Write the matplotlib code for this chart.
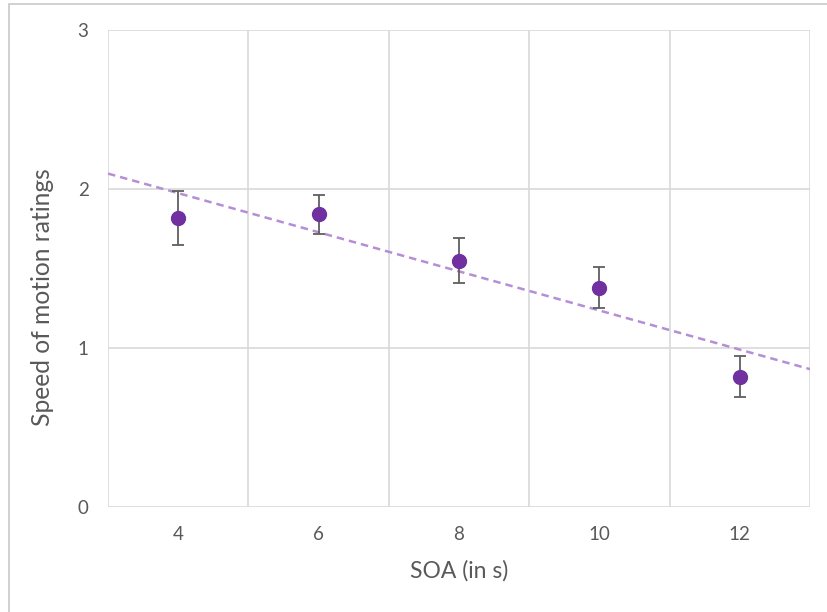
import numpy as np
import matplotlib
matplotlib.use("Agg")
from matplotlib import pyplot as plt
from matplotlib.patches import Rectangle

soa = [4, 6, 8, 10, 12]
ratings = [1.82, 1.84, 1.55, 1.38, 0.82]
errors = [0.17, 0.12, 0.14, 0.13, 0.13]
y_ticks = [0, 1, 2, 3]
x_grid = [3, 5, 7, 9, 11, 13]

plt.rcParams['font.family'] = ['Lato', 'DejaVu Sans']

fig = plt.figure(figsize=(8.28, 6.12), dpi=100)
fig.patches.append(Rectangle((9 / 828, -0.1), 1.2, 1 - 4 / 612 + 0.1,
                             transform=fig.transFigure, fill=False,
                             edgecolor='#c8c8c8', lw=1.2))
ax = fig.add_axes([108 / 828, 1 - 507 / 612, 702 / 828, 477 / 612])

# gridlines
for g in x_grid:
    ax.axvline(g, color='#d9d9d9', lw=1.2, zorder=0)
for t in y_ticks:
    ax.axhline(t, color='#d9d9d9', lw=1.2, zorder=0)

# trendline
slope, icpt = np.polyfit(soa, ratings, 1)
xs = np.array([3, 13])
ax.plot(xs, slope * xs + icpt, ls=(0, (3, 2)), color='#b48fd6', lw=1.8, zorder=2)

ax.errorbar(soa, ratings, yerr=errors, fmt='o', color='#7030a0', ms=10,
            ecolor='#5f5f5f', elinewidth=1.3, capsize=4, capthick=1.3, zorder=3)

ax.set_xlim(3, 13)
ax.set_ylim(0, 3)
ax.set_xticks(soa)
ax.set_yticks(y_ticks)
for s in ax.spines.values():
    s.set_visible(False)
ax.tick_params(length=0, colors='#595959', labelsize=13.5)
ax.tick_params(axis='x', pad=14)
ax.tick_params(axis='y', pad=14)
ax.set_xlabel('SOA (in s)', fontsize=16.5, color='#595959', labelpad=12)
ax.set_ylabel('Speed of motion ratings', fontsize=17.7, color='#595959')
ax.yaxis.set_label_coords(-0.077, 0.44)

fig.savefig('out.png', dpi=100)
